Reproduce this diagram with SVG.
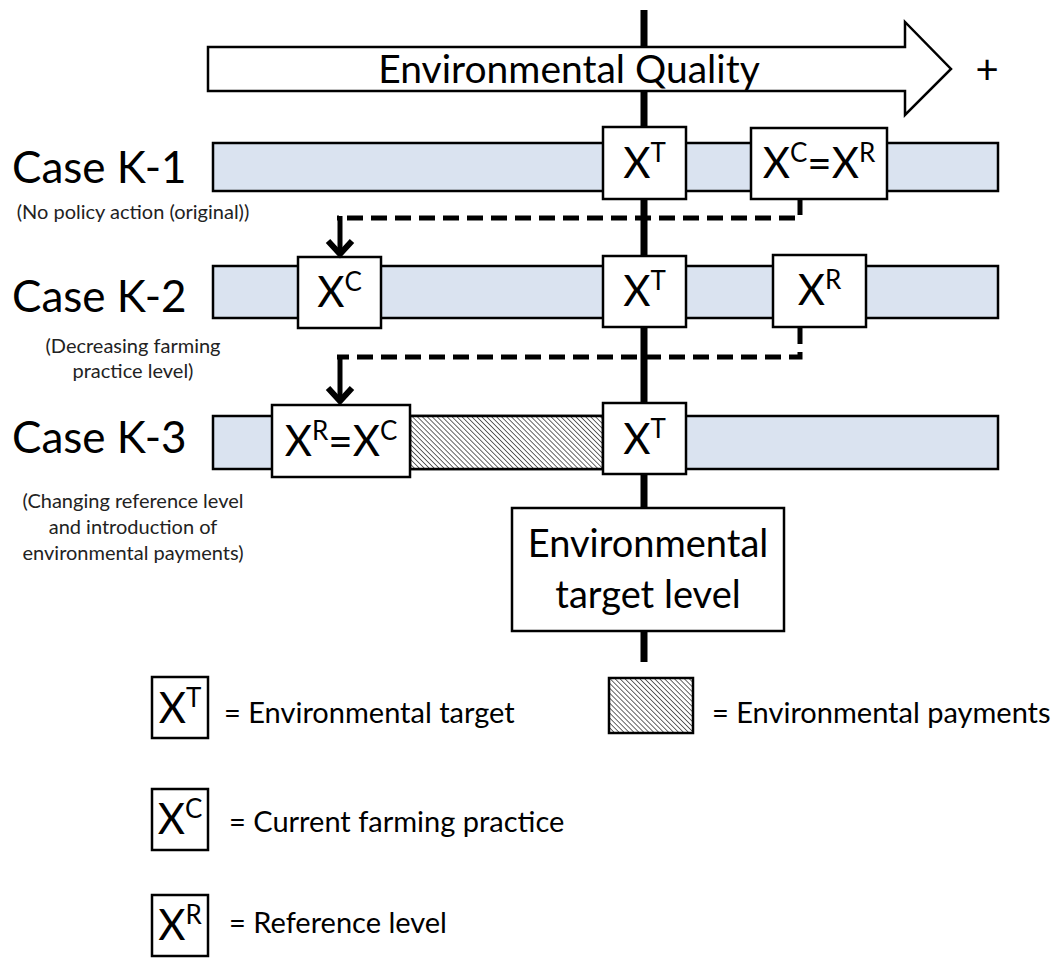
<svg xmlns="http://www.w3.org/2000/svg" width="1059" height="958" viewBox="0 0 1059 958">
  <style>
    text { font-family: Lato, "Open Sans", "Liberation Sans", sans-serif; fill: #000; }
    .case { font-size: 44px; }
    .sub { font-size: 20px; text-anchor: middle; fill: #222; }
    .lbl { font-size: 42px; text-anchor: middle; }
    .sup { font-size: 26px; }
    .leg { font-size: 29px; }
    .bar { fill: #dae3f0; stroke: #000; stroke-width: 2.5; }
    .box { fill: #fff; stroke: #000; stroke-width: 2.5; }
    .pay { fill: url(#hatch); stroke: #000; stroke-width: 2.5; }
    .dash { fill: none; stroke: #000; stroke-width: 5; stroke-dasharray: 16 8; }
    .stem { fill: none; stroke: #000; stroke-width: 5; marker-end: url(#down); }
  </style>
  <defs>
    <pattern id="hatch" patternUnits="userSpaceOnUse" width="3.5" height="3.5" patternTransform="rotate(-45)">
      <rect width="3.5" height="3.5" fill="#fff"/>
      <line x1="0" y1="0" x2="0" y2="3.5" stroke="#000" stroke-width="1.2"/>
    </pattern>
    <marker id="down" markerUnits="userSpaceOnUse" markerWidth="32" markerHeight="32" refX="18" refY="16" orient="auto">
      <path d="M5,4 L18,16 L5,28" fill="none" stroke="#000" stroke-width="6"/>
    </marker>
  </defs>

  <!-- target axis -->
  <g id="axis">
    <line x1="644" y1="10" x2="644" y2="662" stroke="#000" stroke-width="7"/>
  </g>

  <!-- quality arrow -->
  <g id="quality">
    <polygon points="208,47 905,47 905,22 951,69 905,115 905,91 208,91" fill="#fff" stroke="#000" stroke-width="2.5"/>
    <text x="569" y="83" font-size="39" text-anchor="middle">Environmental Quality</text>
    <text x="987" y="84" font-size="40" text-anchor="middle">+</text>
  </g>

  <!-- Case K-1 -->
  <g id="case-k1">
    <text class="case" x="12" y="183">Case K-1</text>
    <text class="sub" x="133" y="219">(No policy action (original))</text>
    <rect class="bar" x="213" y="143" width="785" height="48"/>
    <g id="k1-target">
      <rect class="box" x="603" y="127" width="83" height="72"/>
      <text class="lbl" x="644.5" y="178">X<tspan class="sup" dy="-16">T</tspan></text>
    </g>
    <g id="k1-current-ref">
      <rect class="box" x="751" y="128" width="136" height="71"/>
      <text class="lbl" x="819" y="178">X<tspan class="sup" dy="-16">C</tspan><tspan dy="16">=X</tspan><tspan class="sup" dy="-16">R</tspan></text>
    </g>
  </g>

  <!-- Case K-2 -->
  <g id="case-k2">
    <text class="case" x="12" y="312">Case K-2</text>
    <text class="sub" x="133" y="353">(Decreasing farming</text>
    <text class="sub" x="133" y="378">practice level)</text>
    <rect class="bar" x="213" y="266" width="785" height="52"/>
    <g id="k2-current">
      <rect class="box" x="298" y="257" width="83" height="71"/>
      <text class="lbl" x="339.5" y="307">X<tspan class="sup" dy="-16">C</tspan></text>
    </g>
    <g id="k2-target">
      <rect class="box" x="603" y="256" width="83" height="71"/>
      <text class="lbl" x="644.5" y="306">X<tspan class="sup" dy="-16">T</tspan></text>
    </g>
    <g id="k2-ref">
      <rect class="box" x="773" y="255" width="93" height="72"/>
      <text class="lbl" x="819.5" y="305">X<tspan class="sup" dy="-16">R</tspan></text>
    </g>
  </g>

  <!-- Case K-3 -->
  <g id="case-k3">
    <text class="case" x="12" y="453">Case K-3</text>
    <text class="sub" x="133" y="508">(Changing reference level</text>
    <text class="sub" x="133" y="534">and introduction of</text>
    <text class="sub" x="133" y="560">environmental payments)</text>
    <rect class="bar" x="213" y="416" width="785" height="53"/>
    <rect class="pay" x="410" y="416" width="193" height="53"/>
    <g id="k3-ref-current">
      <rect class="box" x="272" y="405" width="138" height="72"/>
      <text class="lbl" x="341" y="456">X<tspan class="sup" dy="-16">R</tspan><tspan dy="16">=X</tspan><tspan class="sup" dy="-16">C</tspan></text>
    </g>
    <g id="k3-target">
      <rect class="box" x="603" y="403" width="83" height="71"/>
      <text class="lbl" x="644.5" y="454">X<tspan class="sup" dy="-16">T</tspan></text>
    </g>
  </g>

  <!-- target level box -->
  <g id="target-level">
    <rect class="box" x="512" y="508" width="272" height="123"/>
    <text x="648" y="557" font-size="38" text-anchor="middle">Environmental</text>
    <text x="648" y="608" font-size="38" text-anchor="middle">target level</text>
  </g>

  <!-- connectors -->
  <g id="connectors">
    <path class="dash" d="M800,199 V218 H337"/>
    <path class="stem" d="M340,216 V254"/>
    <path class="dash" d="M800,328 V357 H337"/>
    <path class="stem" d="M340,355 V401"/>
  </g>

  <!-- legend -->
  <g id="legend-target">
    <rect class="box" x="152" y="677" width="56" height="61"/>
    <text class="lbl" x="180" y="723">X<tspan class="sup" dy="-16">T</tspan></text>
    <text class="leg" x="224" y="723">= Environmental target</text>
  </g>
  <g id="legend-payments">
    <rect class="pay" x="609" y="678" width="84" height="55"/>
    <text class="leg" x="712" y="723">= Environmental payments</text>
  </g>
  <g id="legend-current">
    <rect class="box" x="152" y="789" width="56" height="61"/>
    <text class="lbl" x="180" y="834">X<tspan class="sup" dy="-16">C</tspan></text>
    <text class="leg" x="229" y="832">= Current farming practice</text>
  </g>
  <g id="legend-ref">
    <rect class="box" x="152" y="895" width="56" height="61"/>
    <text class="lbl" x="180" y="940">X<tspan class="sup" dy="-16">R</tspan></text>
    <text class="leg" x="229" y="933">= Reference level</text>
  </g>
</svg>
